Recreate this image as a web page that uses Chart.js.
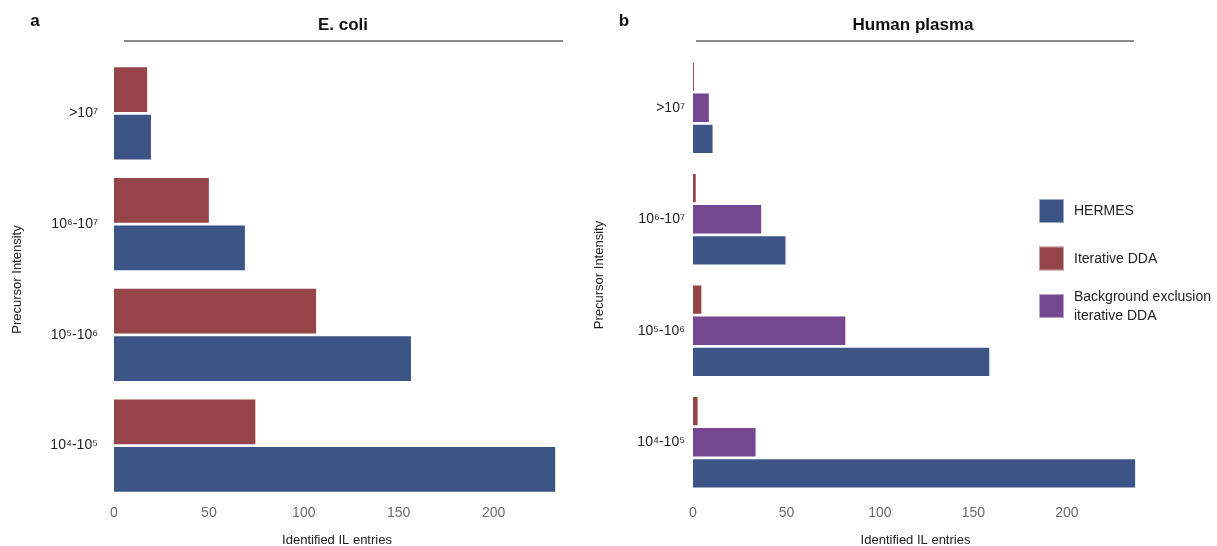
<!DOCTYPE html>
<html lang="en">
<head>
<meta charset="UTF-8" />
<title>Identified IL entries by precursor intensity</title>
<script src="https://cdn.jsdelivr.net/npm/chart.js@4.4.1/dist/chart.umd.min.js"></script>
<style>
  html, body { margin: 0; padding: 0; background: #fff; }
  #wrap { position: relative; width: 1217px; height: 546px; overflow: hidden; }
  .panel { position: absolute; top: 0; height: 546px; }
  #panelA { left: 0; width: 585px; }
  #panelB { left: 585px; width: 632px; }
</style>
</head>
<body>
<div id="wrap">
  <div class="panel" id="panelA"><canvas id="ecoli"></canvas></div>
  <div class="panel" id="panelB"><canvas id="plasma"></canvas></div>
</div>

<script>
// intensity bins, top to bottom
const intensityBins = [">10⁷", "10⁶-10⁷", "10⁵-10⁶", "10⁴-10⁵"];
const seriesNames = ["HERMES", "Iterative DDA", "Background exclusion iterative DDA"];
const xTicks = [0, 50, 100, 150, 200];

// E. coli
const ecoliHermes = [20, 69.5, 157, 233];
const ecoliIterative = [18, 50.5, 107, 75];

// Human plasma
const plasmaHermes = [11, 50, 159, 237];
const plasmaIterative = [1, 2, 5, 3];
const plasmaBgExclusion = [9, 37, 82, 34];

const BLUE = "#3d5487";
const RED = "#954448";
const PURPLE = "#744790";
const FONT = '"Liberation Sans", Arial, sans-serif';

Chart.defaults.font.family = FONT;

// panel letter, bold title and the rule under it
const panelHeader = {
  id: "panelHeader",
  afterDraw(chart, args, opts) {
    const ctx = chart.ctx;
    ctx.save();
    ctx.fillStyle = "#111";
    ctx.font = "bold 17px " + FONT;
    ctx.textAlign = "center";
    ctx.textBaseline = "middle";
    ctx.fillText(opts.letter, opts.letterX, 21);
    ctx.fillText(opts.title, opts.titleX, 25);
    ctx.strokeStyle = "#8a8a8a";
    ctx.lineWidth = 2;
    ctx.beginPath();
    ctx.moveTo(opts.lineFrom, 41);
    ctx.lineTo(opts.lineTo, 41);
    ctx.stroke();
    ctx.restore();
  }
};

// square swatches with wrapped labels to the right of the plasma panel
const sideLegend = {
  id: "sideLegend",
  afterDraw(chart, args, opts) {
    if (!opts.order) return;
    const ctx = chart.ctx;
    ctx.save();
    ctx.font = "14px " + FONT;
    ctx.textBaseline = "middle";
    ctx.textAlign = "left";
    opts.order.forEach((di, i) => {
      const ds = chart.data.datasets[di];
      const top = opts.y + i * opts.step;
      ctx.fillStyle = ds.backgroundColor;
      ctx.fillRect(opts.x, top, 25, 24);
      ctx.strokeStyle = "rgba(255,255,255,0.5)";
      ctx.lineWidth = 1;
      ctx.strokeRect(opts.x + 0.5, top + 0.5, 24, 23);

      // wrap the label to the available width
      const words = ds.label.split(" ");
      const lines = [];
      let cur = "";
      words.forEach(w => {
        const test = cur ? cur + " " + w : w;
        if (cur && ctx.measureText(test).width > opts.wrap) {
          lines.push(cur);
          cur = w;
        } else {
          cur = test;
        }
      });
      lines.push(cur);
      const lh = 19;
      const mid = top + 12.5;
      ctx.fillStyle = "#222";
      lines.forEach((ln, k) => {
        ctx.fillText(ln, opts.x + 35, mid + (k - (lines.length - 1) / 2) * lh);
      });
    });
    ctx.restore();
  }
};

function barSet(label, data, color) {
  return {
    label: label,
    data: data,
    backgroundColor: color,
    borderColor: "rgba(255,255,255,0.45)",
    borderWidth: 1
  };
}

function panelOptions(cfg) {
  return {
    indexAxis: "y",
    responsive: true,
    maintainAspectRatio: false,
    animation: false,
    categoryPercentage: cfg.catPct,
    barPercentage: cfg.barPct,
    layout: { padding: { top: cfg.top, right: cfg.right, bottom: 0, left: 0 } },
    plugins: {
      legend: { display: false },
      tooltip: { enabled: false },
      panelHeader: cfg.header,
      sideLegend: cfg.legend || {}
    },
    scales: {
      x: {
        min: 0,
        max: cfg.xMax,
        grid: { display: false, drawTicks: false },
        border: { display: false },
        afterFit: s => { s.height = cfg.xHeight; },
        afterBuildTicks: s => { s.ticks = xTicks.map(v => ({ value: v })); },
        ticks: { color: "#6b6b6b", font: { size: 14 }, padding: cfg.xPad },
        title: {
          display: true,
          text: "Identified IL entries",
          color: "#222",
          font: { size: 13 },
          padding: { top: 0, bottom: -2 }
        }
      },
      y: {
        grid: { display: false, drawTicks: false },
        border: { display: false },
        afterFit: s => { s.width = cfg.yWidth; },
        ticks: { color: "#222", font: { size: 14 }, padding: cfg.yPad },
        title: {
          display: true,
          text: "Precursor Intensity",
          color: "#222",
          font: { size: 13 },
          padding: { top: cfg.yTitlePad, bottom: 0 }
        }
      }
    }
  };
}

new Chart(document.getElementById("ecoli"), {
  type: "bar",
  data: {
    labels: intensityBins,
    datasets: [
      barSet(seriesNames[1], ecoliIterative, RED),
      barSet(seriesNames[0], ecoliHermes, BLUE)
    ]
  },
  options: panelOptions({
    top: 58, right: 25, xHeight: 45, xMax: 235, xPad: 4,
    yWidth: 114, yPad: 16, yTitlePad: 10,
    catPct: 0.86, barPct: 0.98,
    header: { letter: "a", letterX: 35, title: "E. coli", titleX: 343, lineFrom: 124, lineTo: 563 }
  }),
  plugins: [panelHeader, sideLegend]
});

new Chart(document.getElementById("plasma"), {
  type: "bar",
  data: {
    labels: intensityBins,
    datasets: [
      barSet(seriesNames[1], plasmaIterative, RED),
      barSet(seriesNames[2], plasmaBgExclusion, PURPLE),
      barSet(seriesNames[0], plasmaHermes, BLUE)
    ]
  },
  options: panelOptions({
    top: 52, right: 79, xHeight: 48, xMax: 238, xPad: 7,
    yWidth: 108, yPad: 8, yTitlePad: 7,
    catPct: 0.84, barPct: 0.97,
    header: { letter: "b", letterX: 39, title: "Human plasma", titleX: 328, lineFrom: 111, lineTo: 549 },
    legend: { order: [2, 0, 1], x: 454, y: 199, step: 47.5, wrap: 150 }
  }),
  plugins: [panelHeader, sideLegend]
});
</script>
</body>
</html>
